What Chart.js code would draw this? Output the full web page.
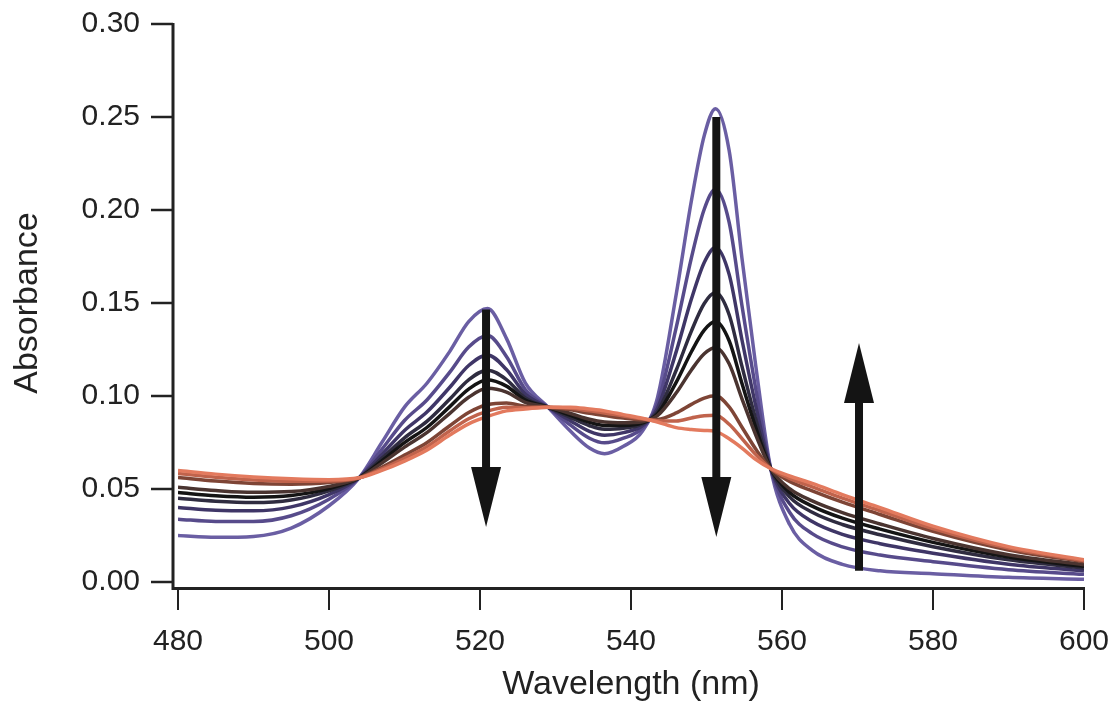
<!DOCTYPE html>
<html>
<head>
<meta charset="utf-8">
<script src="https://cdn.jsdelivr.net/npm/chart.js@4.4.0/dist/chart.umd.min.js"></script>
<style>
  html, body { margin: 0; padding: 0; background: #fff; }
</style>
</head>
<body>
<canvas id="chart" width="1114" height="705"></canvas>
<script>
// wavelength grid (nm), denser around the two Q-band peaks
var wavelengths = [480, 485, 490, 495, 500, 504, 507, 510, 513, 516, 518.5, 521, 523.5, 526, 529,
  532, 534.5, 536.5, 539, 541.5, 543.5, 546, 548, 549.7, 551.2, 553, 554.7, 556.5, 558.5, 561,
  564, 568, 573, 580, 590, 600];

// absorbance of each scan, first (purple) to last (orange)
var scan1 = [0.025, 0.024, 0.0245, 0.029, 0.041, 0.056, 0.075, 0.094, 0.107, 0.124, 0.140, 0.147, 0.131, 0.107, 0.094,
  0.081, 0.072, 0.069, 0.073, 0.081, 0.099, 0.155, 0.205, 0.240, 0.2545, 0.232, 0.174, 0.117, 0.061, 0.031,
  0.017, 0.0095, 0.006, 0.0045, 0.0025, 0.0015];
var scan2 = [0.0338, 0.0325, 0.0325, 0.0356, 0.0445, 0.056, 0.0713, 0.0868, 0.098, 0.1128, 0.1263, 0.1325, 0.1213, 0.1035, 0.094,
  0.0843, 0.0773, 0.0748, 0.0773, 0.0828, 0.0958, 0.137, 0.1743, 0.2004, 0.2111, 0.1933, 0.1485, 0.1043, 0.061, 0.0375,
  0.026, 0.0189, 0.0145, 0.0109, 0.0066, 0.0041];
var scan3 = [0.0401, 0.0386, 0.0383, 0.0404, 0.047, 0.056, 0.0686, 0.0815, 0.0915, 0.1047, 0.1164, 0.1221, 0.1142, 0.101, 0.094,
  0.0866, 0.081, 0.0789, 0.0803, 0.084, 0.0934, 0.124, 0.1521, 0.1718, 0.1799, 0.1654, 0.1301, 0.0951, 0.061, 0.0422,
  0.0325, 0.0256, 0.0206, 0.0155, 0.0096, 0.006];
var scan4 = [0.045, 0.0434, 0.0427, 0.0441, 0.049, 0.056, 0.0665, 0.0775, 0.0865, 0.0984, 0.1087, 0.1139, 0.1088, 0.099, 0.094,
  0.0884, 0.084, 0.0821, 0.0827, 0.085, 0.0916, 0.114, 0.1349, 0.1497, 0.1556, 0.1437, 0.1159, 0.0879, 0.061, 0.0458,
  0.0375, 0.0309, 0.0254, 0.019, 0.0119, 0.0075];
var scan5 = [0.0481, 0.0464, 0.0456, 0.0465, 0.0502, 0.056, 0.0651, 0.0749, 0.0832, 0.0943, 0.1037, 0.1087, 0.1053, 0.0978, 0.094,
  0.0896, 0.0859, 0.0842, 0.0842, 0.0856, 0.0904, 0.1075, 0.1238, 0.1354, 0.140, 0.1297, 0.1067, 0.0833, 0.061, 0.0482,
  0.0408, 0.0343, 0.0284, 0.0213, 0.0134, 0.0084];
var scan6 = [0.0509, 0.0492, 0.0482, 0.0486, 0.0514, 0.056, 0.0639, 0.0725, 0.0804, 0.0907, 0.0993, 0.1041, 0.1021, 0.0966, 0.094,
  0.0906, 0.0875, 0.086, 0.0856, 0.0862, 0.0894, 0.1017, 0.114, 0.1227, 0.1261, 0.1173, 0.0985, 0.0793, 0.061, 0.0502,
  0.0436, 0.0373, 0.0312, 0.0234, 0.0147, 0.0093];
var scan7 = [0.0562, 0.0543, 0.053, 0.0526, 0.0535, 0.056, 0.0617, 0.0682, 0.075, 0.084, 0.0911, 0.0954, 0.0963, 0.0945, 0.094,
  0.0926, 0.0907, 0.0895, 0.0881, 0.0872, 0.0874, 0.0909, 0.0955, 0.0989, 0.1001, 0.0941, 0.0832, 0.0716, 0.061, 0.0541,
  0.049, 0.0429, 0.0363, 0.0272, 0.0172, 0.0109];
var scan8 = [0.0583, 0.0563, 0.0549, 0.0542, 0.0543, 0.056, 0.0608, 0.0665, 0.0728, 0.0813, 0.0878, 0.0919, 0.094, 0.0937, 0.094,
  0.0934, 0.092, 0.0909, 0.0892, 0.0877, 0.0867, 0.0866, 0.0882, 0.0894, 0.0897, 0.0848, 0.0771, 0.0686, 0.061, 0.0557,
  0.0512, 0.0451, 0.0383, 0.0287, 0.0182, 0.0115];
var scan9 = [0.060, 0.058, 0.0565, 0.0555, 0.055, 0.056, 0.060, 0.065, 0.071, 0.079, 0.085, 0.089, 0.092, 0.093, 0.094,
  0.094, 0.093, 0.092, 0.090, 0.088, 0.086, 0.083, 0.082, 0.0815, 0.081, 0.077, 0.072, 0.066, 0.061, 0.057,
  0.053, 0.047, 0.040, 0.030, 0.019, 0.012];

var scans = [scan1, scan2, scan3, scan4, scan5, scan6, scan7, scan8, scan9];
var lineColors = ["#6a5ea3", "#574b8b", "#3f3667", "#2f2c40", "#141414", "#4a3430", "#7e4536", "#c0634c", "#e37a5e"];

// arrows: wavelength, start absorbance, tip absorbance
var arrowX = [520.8, 551.3, 570.2];
var arrowFrom = [0.1465, 0.250, 0.006];
var arrowTo = [0.0296, 0.0242, 0.1285];

var xTicks = [480, 500, 520, 540, 560, 580, 600];
var yTicks = [0, 0.05, 0.10, 0.15, 0.20, 0.25, 0.30];

var fontFamily = "'Liberation Sans', Arial, sans-serif";

var datasets = scans.map(function(values, i) {
  return {
    data: values.map(function(v, j) { return { x: wavelengths[j], y: v }; }),
    borderColor: lineColors[i],
    borderWidth: 3.5,
    pointRadius: 0,
    cubicInterpolationMode: "monotone",
    fill: false,
    order: scans.length - i
  };
});

var decorations = {
  id: "decorations",
  afterDatasetsDraw: function(chart) {
    var ctx = chart.ctx;
    var xs = chart.scales.x;
    var ys = chart.scales.y;
    var axisX = xs.getPixelForValue(480) - 5;
    var axisY = ys.getPixelForValue(0) + 5;
    var right = xs.getPixelForValue(600);
    var top = ys.getPixelForValue(0.30);

    ctx.save();
    ctx.strokeStyle = "#222";
    ctx.lineCap = "butt";

    // axis lines
    ctx.lineWidth = 3;
    ctx.beginPath();
    ctx.moveTo(axisX, top - 1);
    ctx.lineTo(axisX, axisY + 1.5);
    ctx.lineTo(right + 1, axisY + 1.5);
    ctx.stroke();

    // y ticks
    ctx.lineWidth = 2.5;
    yTicks.forEach(function(v) {
      var py = ys.getPixelForValue(v);
      ctx.beginPath();
      ctx.moveTo(axisX - 22, py);
      ctx.lineTo(axisX, py);
      ctx.stroke();
    });

    // x ticks
    ctx.lineWidth = 2;
    xTicks.forEach(function(v) {
      var px = xs.getPixelForValue(v);
      ctx.beginPath();
      ctx.moveTo(px, axisY);
      ctx.lineTo(px, axisY + 23);
      ctx.stroke();
    });

    // arrows
    ctx.fillStyle = "#141414";
    ctx.strokeStyle = "#141414";
    for (var i = 0; i < arrowX.length; i++) {
      var px = xs.getPixelForValue(arrowX[i]);
      var y0 = ys.getPixelForValue(arrowFrom[i]);
      var y1 = ys.getPixelForValue(arrowTo[i]);
      var dir = y1 > y0 ? 1 : -1;
      var headLen = 60;
      var base = y1 - dir * headLen;
      ctx.lineWidth = 8;
      ctx.beginPath();
      ctx.moveTo(px, y0);
      ctx.lineTo(px, base);
      ctx.stroke();
      ctx.beginPath();
      ctx.moveTo(px - 15, base);
      ctx.lineTo(px + 15, base);
      ctx.lineTo(px, y1);
      ctx.closePath();
      ctx.fill();
    }
    ctx.restore();
  }
};

new Chart(document.getElementById("chart"), {
  type: "line",
  data: { datasets: datasets },
  options: {
    responsive: false,
    animation: false,
    layout: { padding: { left: 0, top: 24, right: 30, bottom: 0 } },
    plugins: { legend: { display: false }, tooltip: { enabled: false } },
    scales: {
      x: {
        type: "linear",
        min: 480,
        max: 600,
        border: { display: false },
        grid: { display: false, drawTicks: true, tickLength: 42 },
        afterFit: function(scale) { scale.height = 123; },
        afterBuildTicks: function(scale) {
          scale.ticks = xTicks.map(function(v) { return { value: v }; });
        },
        ticks: {
          padding: 0,
          color: "#222",
          font: { family: fontFamily, size: 30 },
          maxRotation: 0,
          callback: function(v) { return String(v); }
        },
        title: {
          display: true,
          text: "Wavelength (nm)",
          color: "#222",
          font: { family: fontFamily, size: 34 },
          padding: { top: 0, bottom: 0 }
        }
      },
      y: {
        type: "linear",
        min: 0,
        max: 0.30,
        border: { display: false },
        grid: { display: false, drawTicks: true, tickLength: 38 },
        afterFit: function(scale) { scale.width = 178; },
        afterBuildTicks: function(scale) {
          scale.ticks = yTicks.map(function(v) { return { value: v }; });
        },
        ticks: {
          padding: 0,
          color: "#222",
          font: { family: fontFamily, size: 30 },
          callback: function(v) { return v.toFixed(2); }
        },
        title: {
          display: true,
          text: "Absorbance",
          color: "#222",
          font: { family: fontFamily, size: 34 },
          padding: { top: 7, bottom: 0 }
        }
      }
    }
  },
  plugins: [decorations]
});
</script>
</body>
</html>
